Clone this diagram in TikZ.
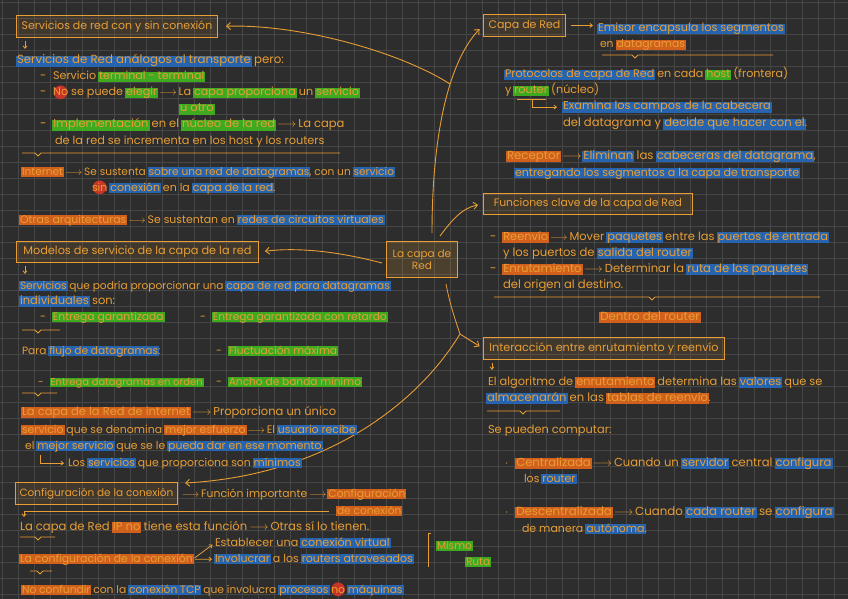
\documentclass[tikz,border=0pt]{standalone}
\usepackage{fontspec}
\setmainfont{Poppins}
\newfontfamily\dejavu{DejaVu Sans}
\usetikzlibrary{arrows.meta}
\definecolor{bg}{RGB}{45,45,45}
\definecolor{gridc}{RGB}{70,70,70}
\definecolor{tor}{RGB}{232,158,52}
\definecolor{hblue}{RGB}{38,100,175}
\definecolor{hgreen}{RGB}{62,170,32}
\definecolor{horange}{RGB}{208,96,28}
\definecolor{hred}{RGB}{200,52,38}
\newsavebox\hlbox
\newcommand\hlt[2]{\sbox\hlbox{#2}\kern-1pt\rlap{\textcolor{#1}{\rule[-0.22em]{\dimexpr\wd\hlbox+2pt\relax}{0.94em}}}\kern1pt\usebox\hlbox}
\newcommand\hlb[1]{\hlt{hblue}{#1}}
\newcommand\hlg[1]{\hlt{hgreen}{#1}}
\newcommand\hlo[1]{\hlt{horange}{#1}}
\newcommand\hlr[1]{\sbox\hlbox{#1}\rlap{\hbox to\wd\hlbox{\hss\raisebox{-1.2pt}{\textcolor{hred}{\dejavu\fontsize{18}{18}\selectfont ●}}\hss}}\usebox\hlbox}
\newcommand\tarr{\,$\longrightarrow$\,}
\newcommand\ubr[4]{\draw[hand] (#1,#2) -- ({#3-3},#2) -- (#3,{#2+3}) -- ({#3+3},#2) -- (#4,#2);}
\tikzset{
  txt/.style={anchor=base west, inner sep=0pt, outer sep=0pt, text=tor, font=\fontsize{#1}{12}\selectfont},
  txt/.default=10,
  boxst/.style={draw=tor, line width=0.9pt, fill=tor, fill opacity=0.1, text opacity=1, text=tor,
     anchor=north west, inner sep=0pt, font=\fontsize{#1}{12}\selectfont},
  boxst/.default=10,
  conn/.style={draw=tor, line width=0.9pt, -{Straight Barb[length=4pt,width=7pt]}},
  sconn/.style={draw=tor, line width=0.8pt, -{Straight Barb[length=2.5pt,width=4pt]}},
  hand/.style={draw=tor, line width=0.8pt},
}
\begin{document}
\begin{tikzpicture}[x=1pt,y=-1pt]
\useasboundingbox (0,0) rectangle (848,599);
\fill[bg] (0,0) rectangle (848,599);
\foreach \i in {0,...,52} \draw[gridc, line width=0.7pt] ({2+16*\i},0) -- ({2+16*\i},599);
\foreach \j in {0,...,37} \draw[gridc, line width=0.7pt] (0,{2+16*\j}) -- (848,{2+16*\j});

% ---------- boxes ----------
\node[boxst=11, minimum width=201pt, minimum height=22pt] (b1) at (16,15) {Servicios de red con y sin conexión};
\node[boxst=11.3, minimum width=242pt, minimum height=21pt] (b2) at (16,241) {Modelos de servicio de la capa de la red};
\node[boxst=10.5, minimum width=162pt, minimum height=22pt] (b3) at (15,482) {Configuración de la conexión};
\node[boxst=10.5, minimum width=71pt, minimum height=36pt, align=center, fill opacity=0.16] (cn) at (386,241) {La capa de\\Red};
\node[boxst=11, minimum width=82pt, minimum height=22pt] (b5) at (483,14) {Capa de Red};
\node[boxst=10.8, minimum width=209pt, minimum height=21pt] (b6) at (483,193) {Funciones clave de la capa de Red};
\node[boxst=11.2, minimum width=241pt, minimum height=22pt] (b7) at (483,337) {Interacción entre enrutamiento y reenvío};

% ---------- main connectors ----------
\coordinate (s1) at (432,233);
\coordinate (br1) at (450,84);
\coordinate (s2) at (440,236);
\coordinate (s3) at (382,263);
\coordinate (s4) at (446,284);
\coordinate (j) at (460,334);
\coordinate (e3) at (185,483);
\draw[conn, shorten >=5pt] (s1) .. controls (432,130) and (450,60) .. (b5.west);
\draw[conn, shorten >=8pt] (br1) .. controls (400,52) and (300,24) .. (b1.east);
\draw[conn, shorten >=5pt] (s2) .. controls (452,220) and (462,208) .. (b6.west);
\draw[conn, shorten >=6pt] (s3) .. controls (340,252) and (300,247) .. (b2.east);
\draw[hand] (s4) .. controls (450,305) and (456,322) .. (j);
\draw[conn, shorten >=4pt] (j) -- (b7.west);
\draw[conn] (j) .. controls (420,400) and (330,475) .. (e3);

% ---------- left column ----------
\draw[sconn] ([shift={(9pt,-3pt)}]b1.south west) -- ++(0,8);
\node[txt=11.8] (t1) at (17,64) {\hlb{Servicios de Red análogos al transporte} pero:};
\node[txt=11.1] (t2) at (40,80) {-\hspace{7pt}Servicio \hlg{terminal - terminal}};
\node[txt=11.2] (t3) at (40,96) {-\hspace{7pt}\hlr{No} se puede \hlg{elegir}\tarr La \hlg{capa proporciona} un \hlg{servicio}};
\node[txt=11.5] (t4) at (180,112) {\hlg{u otro}};
\node[txt=11.5] (t5) at (40,128) {-\hspace{7pt}\hlg{Implementación} en el \hlg{núcleo de la red}\tarr La capa};
\node[txt=11.3] (t6) at (55,144) {de la red se incrementa en los host y los routers};
\ubr{22}{153}{38}{340}
\node[txt=10.6] (t7) at (22,175) {\hlo{Internet}\tarr Se sustenta \hlb{sobre una red de datagramas}, con un \hlb{servicio}};
\node[txt=11] (t8) at (92,191) {\hlr{sin} \hlb{conexión} en la \hlb{capa de la red}.};
\node[txt=10.9] (t9) at (20,223) {\hlo{Otras arquitecturas}\tarr Se sustentan en \hlb{redes de circuitos virtuales}};
\draw[sconn] ([shift={(9pt,-3pt)}]b2.south west) -- ++(0,8);
\node[txt=10.6] (t10) at (20,289) {\hlb{Servicios} que podría proporcionar una \hlb{capa de red para datagramas}};
\node[txt=11.5] (t11) at (20,304) {\hlb{individuales} son:};
\node[txt=10.8] (t12) at (40,320) {-\hspace{7pt}\hlg{Entrega garantizada}};
\node[txt=10.6] (t13) at (200,320) {-\hspace{7pt}\hlg{Entrega garantizada con retardo}};
\ubr{22}{330}{38}{60}
\node[txt=10.6] (t14) at (22,354) {Para \hlb{flujo de datagramas}:};
\node[txt=10.6] (t15) at (216,354) {-\hspace{7pt}\hlg{Fluctuación máxima}};
\node[txt=10] (t16) at (38,385) {-\hspace{7pt}\hlg{Entrega datagramas en orden}};
\node[txt=10.6] (t17) at (216,385) {-\hspace{7pt}\hlg{Ancho de banda mínimo}};
\ubr{22}{393}{38}{57}
\node[txt=11.5] (t18) at (22,415) {\hlo{La capa de la Red de internet}\tarr Proporciona un único};
\node[txt=10.9] (t19) at (22,433) {\hlo{servicio} que se denomina \hlo{mejor esfuerzo}\tarr El \hlb{usuario recibe}};
\node[txt=10.9] (t20) at (25,449) {el \hlb{mejor servicio} que se le \hlb{pueda dar en ese momento}.};
\node[txt=10.8] (t21) at (68,466) {Los \hlb{servicios} que proporciona son \hlb{mínimos}};
\coordinate (h1) at (40,455);
\draw[sconn, shorten >=4pt] (h1) |- (t21.west);

% ---------- bottom left ----------
\node[txt=10.8] (t22) at (180,497) {\tarr Función importante\tarr \hlo{Configuración}};
\node[txt=10.6] (t23) at (337,514) {\hlo{de conexión}};
\coordinate (c1) at (24,517);
\draw[sconn] ([xshift=-8pt]t23.west) -| (c1);
\node[txt=11.6] (t24) at (20,530) {La capa de Red \hlo{IP no} tiene esta función\tarr Otras sí lo tienen.};
\ubr{20}{537}{38}{55}
\node[txt=10.9] (t25) at (20,562) {\hlo{La configuración de la conexión}};
\node[txt=11.2] (t26) at (215,546) {Establecer una \hlb{conexión virtual}};
\node[txt=11] (t27) at (215,562) {\hlb{Involucrar} a los \hlb{routers atravesados}};
\draw[sconn, shorten <=2pt, shorten >=3pt] (t25.east) -- (t26.west);
\draw[sconn, shorten <=2pt, shorten >=3pt] (t25.east) -- (t27.west);
\ubr{30}{571}{40}{52}
\draw[hand] (431,533) -- (428,533) -- (428,567);
\node[txt=10.6] (t28) at (437,549) {\hlg{Mismo}};
\node[txt=10.6] (t29) at (466,565) {\hlg{Ruta}};
\node[txt=10.7] (t30) at (22,593) {\hlo{No confundir} con la \hlb{conexión TCP} que involucra \hlb{procesos} \hlr{no} \hlb{máquinas}};

% ---------- right column ----------
\node[txt=11.3] (t31) at (598,32) {\hlb{Emisor encapsula los segmentos}};
\draw[sconn, shorten <=5pt, shorten >=5pt] (b5.east) -- (t31.west |- b5.east);
\node[txt=10.8] (t32) at (600,48) {en \hlo{datagramas}};
\ubr{602}{55}{635}{773}
\node[txt=11.1] (t33) at (505,78) {\hlb{Protocolos de capa de Red} en cada \hlg{host} (frontera)};
\node[txt=11.2] (t34) at (505,94) {y \hlg{router} (núcleo)};
\draw[hand] (517,99) -- (546,99);
\node[txt=11.4] (t35) at (563,110) {\hlb{Examina los campos de la cabecera}};
\coordinate (h2) at (532,99);
\draw[sconn, shorten >=6pt] (h2) |- (t35.west);
\node[txt=11.6] (t36) at (563,127) {del datagrama y \hlb{decide que hacer con el}.};
\node[txt=11.8] (t37) at (507,159) {\hlo{Receptor}\tarr \hlb{Eliminan} las \hlb{cabeceras del datagrama},};
\node[txt=11.1] (t38) at (515,176) {\hlb{entregando los segmentos a la capa de transporte}};
\node[txt=11.4] (t39) at (490,240) {-\hspace{7pt}\hlo{Reenvío}\tarr Mover \hlb{paquetes} entre las \hlb{puertos de entrada}};
\node[txt=11.6] (t40) at (503,256) {y los puertos de \hlb{salida del router}};
\node[txt=11.6] (t41) at (490,272) {-\hspace{7pt}\hlo{Enrutamiento}\tarr Determinar la \hlb{ruta de los paquetes}};
\node[txt=11.6] (t42) at (503,288) {del origen al destino.};
\ubr{494}{297}{652}{820}
\node[txt=11.8, anchor=base] (t43) at (650,320) {\hlo{Dentro del router}};
\draw[sconn] ([shift={(9pt,-3pt)}]b7.south west) -- ++(0,7);
\node[txt=11.4] (t44) at (488,385) {El algoritmo de \hlo{enrutamiento} determina las \hlb{valores} que se};
\node[txt=11.6] (t45) at (487,401) {\hlb{almacenarán} en las \hlo{tablas de reenvío}.};
\ubr{487}{411}{523}{560}
\node[txt=11.4] (t46) at (488,433) {Se pueden computar:};
\node[txt=11.6] (t47) at (505,466) {$\cdot$\hspace{8pt}\hlo{Centralizada}\tarr Cuando un \hlb{servidor} central \hlb{configura}};
\node[txt=11] (t48) at (524,482) {los \hlb{router}};
\node[txt=11.8] (t49) at (505,515) {$\cdot$\hspace{8pt}\hlo{Descentralizada}\tarr Cuando \hlb{cada router} se \hlb{configura}};
\node[txt=11] (t50) at (522,532) {de manera \hlb{autónoma}.};
\end{tikzpicture}
\end{document}
